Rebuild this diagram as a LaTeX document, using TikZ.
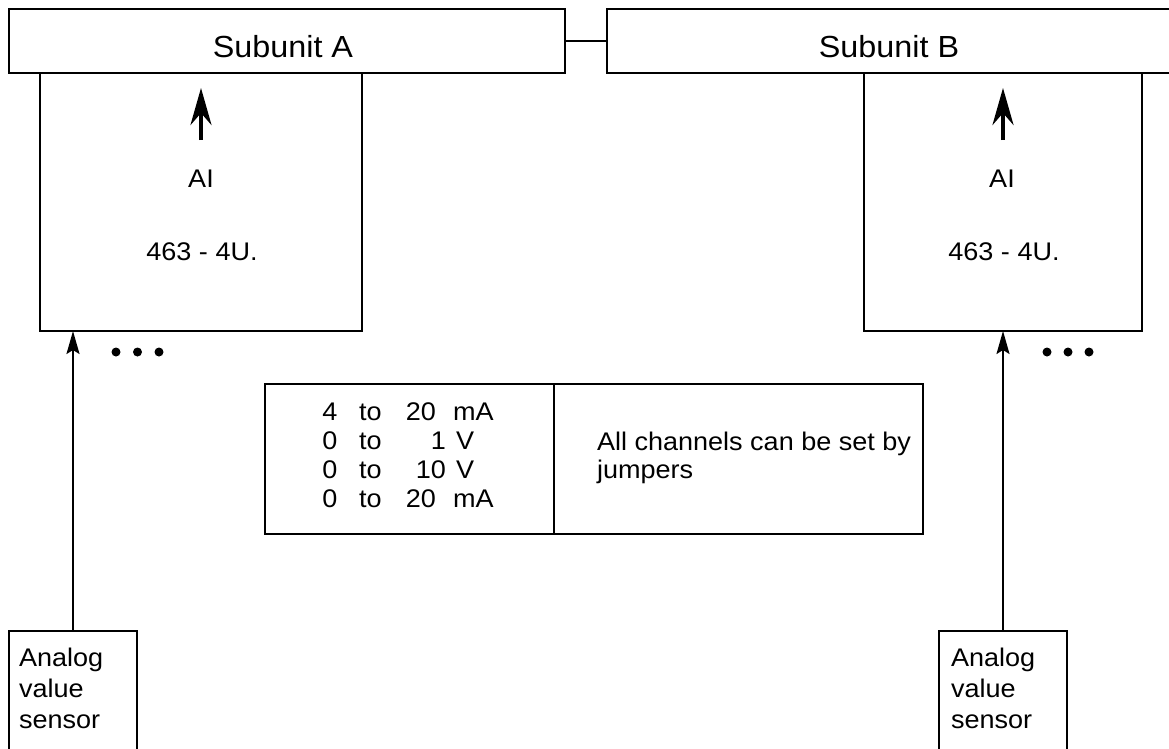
\documentclass[tikz,border=0pt]{standalone}
\usepackage{fontspec}
\setmainfont{Liberation Sans}[FakeStretch=1.06]
\usetikzlibrary{arrows.meta}
\begin{document}
\begin{tikzpicture}[x=1pt,y=-1pt,
  box/.style={draw, line width=2pt, rectangle, inner sep=0pt, outer sep=0pt},
  txt/.style={inner sep=0pt, outer sep=0pt, font=\fontsize{25.5}{29}\selectfont},
  big/.style={inner sep=0pt, outer sep=0pt, font=\fontsize{30.5}{34}\selectfont},
  bigarrow/.style={line width=4pt, -{Stealth[length=37pt, width=21pt, inset=12pt]}},
  sensorarrow/.style={line width=2pt, -{Stealth[length=23pt, width=13pt, inset=4pt]}},
  dotmark/.style={circle, fill=black, inner sep=0pt, minimum size=9pt}]
\useasboundingbox (0,0) rectangle (1169,748);
\clip (0,0) rectangle (1169,748);

% subunit boxes
\node[box, minimum width=556pt, minimum height=64pt] (subA) at (287,41) {};
\node[box, minimum width=564pt, minimum height=64pt] (subB) at (889,41) {};
\node[big, anchor=base] (tSubA) at (283,57) {Subunit A};
\node[big, anchor=base] (tSubB) at (889,57) {Subunit B};
\draw[line width=2pt] (subA.east) -- (subB.west);

% AI modules
\node[box, minimum width=322pt, minimum height=258pt] (aiA) at (201,202) {};
\node[box, minimum width=278pt, minimum height=258pt] (aiB) at (1003,202) {};
\node[txt, anchor=base] (lblAIa) at (201,187) {AI};
\node[txt, anchor=base] (numAIa) at (202,260) {463 - 4U.};
\node[txt, anchor=base] (lblAIb) at (1002,187) {AI};
\node[txt, anchor=base] (numAIb) at (1004,260) {463 - 4U.};
\coordinate (upAs) at (201,140);
\coordinate (upAe) at (201,88);
\coordinate (upBs) at (1003,140);
\coordinate (upBe) at (1003,88);
\draw[bigarrow] (upAs) -- (upAe);
\draw[bigarrow] (upBs) -- (upBe);

% dots
\node[dotmark] (dA1) at (116,352) {};
\node[dotmark] (dA2) at (137.5,352) {};
\node[dotmark] (dA3) at (159,352) {};
\node[dotmark] (dB1) at (1047,352) {};
\node[dotmark] (dB2) at (1068,352) {};
\node[dotmark] (dB3) at (1089,352) {};

% sensors
\node[box, minimum width=128pt, minimum height=125pt] (sensA) at (73,693.5) {};
\node[box, minimum width=128pt, minimum height=125pt] (sensB) at (1003,693.5) {};
\node[txt, anchor=base west] (sensAtxt) at (19,666)
  {\parbox[t]{110pt}{\baselineskip=31pt Analog\\value\\sensor}};
\node[txt, anchor=base west] (sensBtxt) at (951,666)
  {\parbox[t]{110pt}{\baselineskip=31pt Analog\\value\\sensor}};
\draw[sensorarrow] (sensA.north) -- (sensA.north |- aiA.south);
\draw[sensorarrow] (sensB.north) -- (sensB.north |- aiB.south);

% table
\node[box, minimum width=289pt, minimum height=150pt] (tabL) at (409.5,459) {};
\node[box, minimum width=369pt, minimum height=150pt] (tabR) at (738.5,459) {};
\foreach \a/\b/\c/\yy/\bx/\cx in {4/20/mA/420/436/453, 0/1/V/449/446/456, 0/10/V/478/446/456, 0/20/mA/507/436/453}{
  \node[txt, anchor=base] (ra\yy) at (330,\yy) {\a};
  \node[txt, anchor=base west] (rt\yy) at (359,\yy) {to};
  \node[txt, anchor=base east] (rb\yy) at (\bx,\yy) {\b};
  \node[txt, anchor=base west] (rc\yy) at (\cx,\yy) {\c};
}
\node[txt, anchor=base west] (note) at (597,450)
  {\parbox[t]{330pt}{\raggedright\baselineskip=28pt All channels can be set by\\jumpers}};
\end{tikzpicture}
\end{document}
